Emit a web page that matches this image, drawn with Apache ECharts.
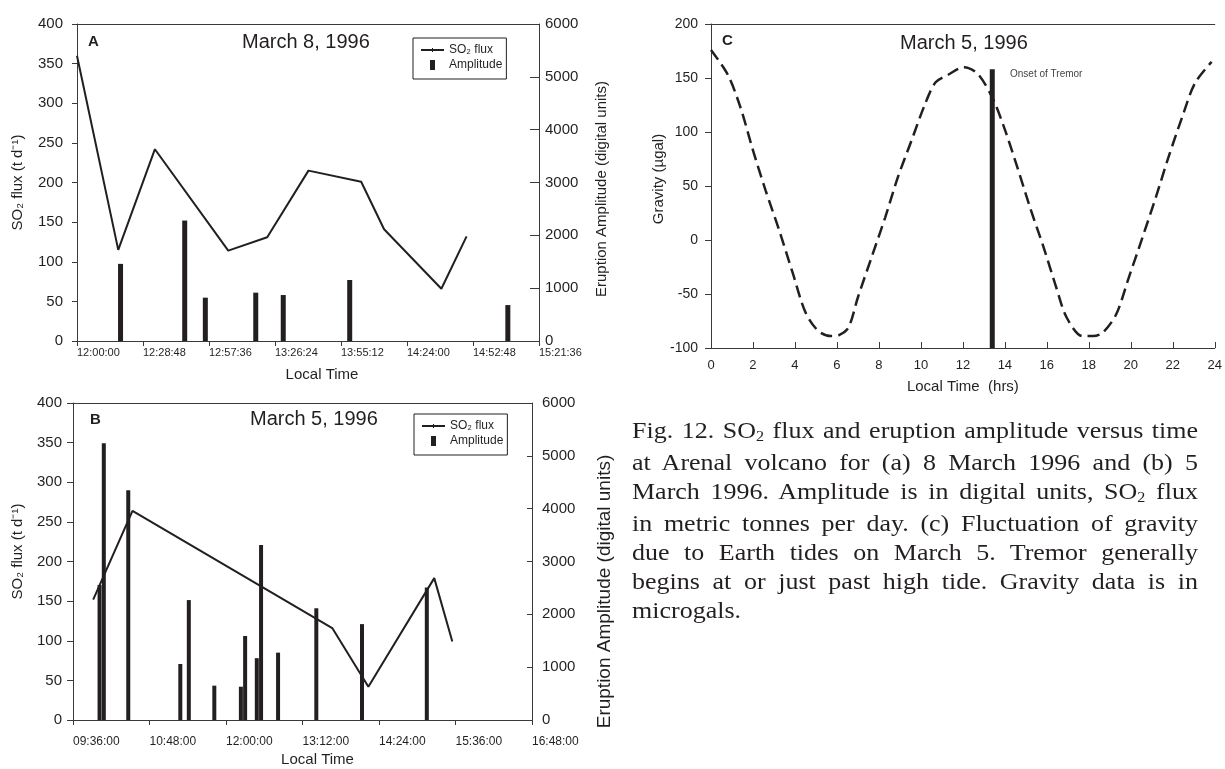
<!DOCTYPE html>
<html>
<head>
<meta charset="utf-8">
<title>Arenal volcano: SO2 flux, eruption amplitude and gravity</title>
<script src="https://cdn.jsdelivr.net/npm/echarts@6/dist/echarts.min.js"></script>
<style>
  html, body { margin: 0; padding: 0; background: #fff; }
  #chart { position: absolute; left: 0; top: 0; width: 1225px; height: 769px; }
  #caption {
    position: absolute; left: 632px; top: 416px; width: 566px;
    font-family: 'Liberation Serif', 'Times New Roman', serif;
    font-size: 26px; line-height: 33.5px; color: #231f20;
    transform: scaleY(0.87); transform-origin: 0 0;
  }
  #caption div { text-align: justify; text-align-last: justify; }
  #caption div.last { text-align-last: left; }
  #caption .sub { font-size: 0.62em; position: relative; top: 0.22em; }
</style>
</head>
<body>
<div id="chart"></div>
<div id="caption">
  <div>Fig. 12. SO<span class="sub">2</span> flux and eruption amplitude versus time</div>
  <div>at Arenal volcano for (a) 8 March 1996 and (b) 5</div>
  <div>March 1996. Amplitude is in digital units, SO<span class="sub">2</span> flux</div>
  <div>in metric tonnes per day. (c) Fluctuation of gravity</div>
  <div>due to Earth tides on March 5. Tremor generally</div>
  <div>begins at or just past high tide. Gravity data is in</div>
  <div class="last">microgals.</div>
</div>
<script>
// ---- Panel A: 8 March 1996 ----
const timeTicksA = ['12:00:00', '12:28:48', '12:57:36', '13:26:24', '13:55:12', '14:24:00', '14:52:48', '15:21:36'];
const fluxTimesA = ['12:00', '12:18', '12:34', '13:06', '13:23', '13:41', '14:04', '14:14', '14:39', '14:50'];
const fluxValuesA = [360, 115, 242, 114, 131, 215, 201, 141, 66, 132];
const ampTimesA = ['12:19', '12:47', '12:56', '13:18', '13:30', '13:59', '15:08'];
const ampValuesA = [1460, 2280, 820, 915, 870, 1155, 680];

// ---- Panel B: 5 March 1996 ----
const timeTicksB = ['09:36:00', '10:48:00', '12:00:00', '13:12:00', '14:24:00', '15:36:00', '16:48:00'];
const fluxTimesB = ['09:55', '10:32', '13:40', '14:14', '15:16', '15:33'];
const fluxValuesB = [152, 264, 116, 42, 179, 99];
const ampTimesB = ['10:01', '10:05', '10:28', '11:17', '11:25', '11:49', '12:14', '12:18', '12:29', '12:33', '12:49', '13:25', '14:08', '15:09'];
const ampValuesB = [2555, 5240, 4350, 1060, 2270, 650, 630, 1590, 1170, 3310, 1275, 2115, 1815, 2510];

// ---- Panel C: Earth-tide gravity, 5 March 1996 ----
const hourTicksC = [0, 2, 4, 6, 8, 10, 12, 14, 16, 18, 20, 22, 24];
const gravityHours = [0, 0.8, 1.4, 2.0, 2.6, 3.25, 3.9, 4.5, 5.1, 5.7, 6.1, 6.55, 7.0, 7.65, 8.3, 8.9, 9.55, 10.2, 10.7, 11.3,
                      12.05, 12.7, 13.4, 13.95, 14.6, 15.2, 15.85, 16.45, 16.95, 17.7, 18.2, 18.65, 19.3, 19.9, 20.55, 21.2, 21.8, 22.45, 23.05, 23.85];
const gravityValues = [176, 153, 123, 83, 46, 9, -31, -67, -84, -89, -88, -81, -53, -16, 21, 58, 92, 126, 146, 153,
                       160, 154, 132, 105, 67, 30, -7, -44, -72, -89, -89, -86, -69, -35, 2, 40, 77, 114, 145, 165];
const tremorHour = [13.4, 13.4];
const tremorGravity = [-100, 158];

const INK = '#231f20';
const FRAME = '#3a3a3a';
const FONT = "'Liberation Sans', Arial, sans-serif";

function toSeconds(clock) {
  const p = clock.split(':').map(Number);
  return p[0] * 3600 + p[1] * 60 + (p[2] || 0);
}
function toClock(sec) {
  const s = Math.round(sec);
  const pad = n => String(n).padStart(2, '0');
  return pad(Math.floor(s / 3600)) + ':' + pad(Math.floor(s / 60) % 60) + ':' + pad(s % 60);
}
function pairs(xs, ys, conv) {
  return xs.map((x, i) => [conv ? conv(x) : x, ys[i]]);
}
const plain = v => String(v);

function clockAxis(ticks, grid, labelMargin, name, nameGap, namePad, labelSize) {
  const min = toSeconds(ticks[0]);
  return {
    type: 'value', gridIndex: grid, position: 'bottom',
    min: min, max: toSeconds(ticks[ticks.length - 1]),
    interval: toSeconds(ticks[1]) - min,
    axisLine: { show: true, onZero: false, lineStyle: { color: FRAME, width: 1 } },
    axisTick: { show: true, length: 5, lineStyle: { color: FRAME } },
    splitLine: { show: false },
    axisLabel: { formatter: v => toClock(v), align: 'left', margin: labelMargin,
                 fontSize: labelSize, color: INK, fontFamily: FONT },
    name: name, nameLocation: 'middle', nameGap: nameGap,
    nameTextStyle: { fontSize: 15, color: INK, fontFamily: FONT, padding: namePad }
  };
}
function frameTop(grid, min, max) {
  return {
    type: 'value', gridIndex: grid, position: 'top', min: min, max: max,
    axisLine: { show: true, onZero: false, lineStyle: { color: FRAME, width: 1 } },
    axisTick: { show: false }, axisLabel: { show: false }, splitLine: { show: false }
  };
}
function valueAxis(grid, pos, min, max, step, o) {
  return {
    type: 'value', gridIndex: grid, position: pos, min: min, max: max, interval: step,
    axisLine: { show: true, onZero: false, lineStyle: { color: FRAME, width: 1 } },
    axisTick: { show: true, inside: o.inside, length: o.tick, lineStyle: { color: FRAME } },
    splitLine: { show: false },
    axisLabel: { formatter: plain, margin: o.margin, fontSize: o.size, color: INK, fontFamily: FONT },
    name: o.name, nameLocation: 'middle', nameGap: o.gap,
    nameTextStyle: { fontSize: o.nameSize, color: INK, fontFamily: FONT, padding: o.pad }
  };
}
function legendBox(left, top, pad, gap) {
  return {
    orient: 'vertical', left: left, top: top, padding: pad,
    itemGap: gap, itemWidth: 23, itemHeight: 10,
    borderColor: INK, borderWidth: 1, backgroundColor: '#fff',
    textStyle: { fontSize: 12, color: INK, fontFamily: FONT },
    selectedMode: false,
    data: [
      { name: 'SO₂ flux', icon: 'path://M0,0M23,10M0,4L23,4L23,6L0,6ZM11,3L12,3L12,7L11,7Z' },
      { name: 'Amplitude', icon: 'path://M0,0M23,10M9,0L14,0L14,10L9,10Z' }
    ]
  };
}
function label(text, left, top, size, bold) {
  return { text: text, left: left, top: top, padding: 0,
           textStyle: { fontSize: size, fontWeight: bold ? 'bold' : 'normal', color: INK, fontFamily: FONT } };
}

const chart = echarts.init(document.getElementById('chart'), null, { renderer: 'canvas' });

const option = {
  animation: false,
  backgroundColor: '#fff',
  title: [
    label('A', 88, 34, 15, true),
    label('March 8, 1996', 242, 32, 20, false),
    label('B', 90, 412, 15, true),
    label('March 5, 1996', 250, 409, 20, false),
    label('C', 722, 33, 15, true),
    label('March 5, 1996', 900, 33, 20, false)
  ],
  legend: [legendBox(413, 38, [6, 4, 8, 8], 3), legendBox(414, 414, [6, 4, 8, 8], 3)],
  grid: [
    { left: 77, top: 24, width: 462, height: 317 },
    { left: 73, top: 403, width: 459, height: 317 },
    { left: 711, top: 24, width: 509, height: 324 }
  ],
  xAxis: [
    clockAxis(timeTicksA, 0, 6, 'Local Time', 26, [0, 0, 0, 28], 11),
    frameTop(0, 0, 1),
    clockAxis(timeTicksB, 1, 16, 'Local Time', 32, [0, 0, 0, 30], 12),
    frameTop(1, 0, 1),
    {
      type: 'value', gridIndex: 2, position: 'bottom',
      min: hourTicksC[0], max: hourTicksC[hourTicksC.length - 1], interval: hourTicksC[1] - hourTicksC[0],
      axisLine: { show: true, onZero: false, lineStyle: { color: FRAME, width: 1 } },
      axisTick: { show: true, inside: true, length: 6, lineStyle: { color: FRAME } },
      splitLine: { show: false },
      axisLabel: { formatter: plain, margin: 11, fontSize: 13, color: INK, fontFamily: FONT },
      name: 'Local Time  (hrs)', nameLocation: 'middle', nameGap: 31,
      nameTextStyle: { fontSize: 15, color: INK, fontFamily: FONT }
    },
    frameTop(2, 0, 1)
  ],
  yAxis: [
    valueAxis(0, 'left', 0, 400, 50, { inside: false, tick: 5, margin: 14, size: 15,
      name: 'SO₂ flux (t d⁻¹)', gap: 52, nameSize: 15, pad: [0, 0, 0, 0] }),
    valueAxis(0, 'right', 0, 6000, 1000, { inside: true, tick: 9, margin: 6, size: 15,
      name: 'Eruption Amplitude (digital units)', gap: 55, nameSize: 15, pad: [0, 13, 0, 0] }),
    valueAxis(1, 'left', 0, 400, 50, { inside: false, tick: 6, margin: 11, size: 15,
      name: 'SO₂ flux (t d⁻¹)', gap: 48, nameSize: 15, pad: [0, 0, 0, 20] }),
    valueAxis(1, 'right', 0, 6000, 1000, { inside: true, tick: 5, margin: 10, size: 15,
      name: 'Eruption Amplitude (digital units)', gap: 63, nameSize: 19, pad: [0, 60, 0, 0] }),
    valueAxis(2, 'left', -100, 200, 50, { inside: false, tick: 6, margin: 13, size: 14,
      name: 'Gravity (µgal)', gap: 44, nameSize: 15, pad: [0, 0, 0, 14] })
  ],
  graphic: [
    { type: 'text', left: 1010, top: 69,
      style: { text: 'Onset of Tremor', fontSize: 10, fontFamily: FONT, fill: '#444' } }
  ],
  series: [
    { name: 'SO₂ flux', type: 'line', xAxisIndex: 0, yAxisIndex: 0, symbol: 'none',
      lineStyle: { color: INK, width: 2 }, itemStyle: { color: INK },
      data: pairs(fluxTimesA, fluxValuesA, toSeconds) },
    { name: 'Amplitude', type: 'bar', xAxisIndex: 0, yAxisIndex: 1, barWidth: 5,
      itemStyle: { color: INK }, data: pairs(ampTimesA, ampValuesA, toSeconds) },
    { name: 'SO₂ flux', type: 'line', xAxisIndex: 2, yAxisIndex: 2, symbol: 'none',
      lineStyle: { color: INK, width: 2 }, itemStyle: { color: INK },
      data: pairs(fluxTimesB, fluxValuesB, toSeconds) },
    { name: 'Amplitude', type: 'bar', xAxisIndex: 2, yAxisIndex: 3, barWidth: 4,
      itemStyle: { color: INK }, data: pairs(ampTimesB, ampValuesB, toSeconds) },
    { name: 'Gravity', type: 'line', xAxisIndex: 4, yAxisIndex: 4, symbol: 'none', smooth: 0.3,
      lineStyle: { color: INK, width: 2.5, type: [12, 6] },
      data: pairs(gravityHours, gravityValues) },
    { name: 'Onset of Tremor', type: 'line', xAxisIndex: 4, yAxisIndex: 4, symbol: 'none',
      lineStyle: { color: INK, width: 5, cap: 'butt' },
      data: pairs(tremorHour, tremorGravity) }
  ]
};

chart.setOption(option);
</script>
</body>
</html>
